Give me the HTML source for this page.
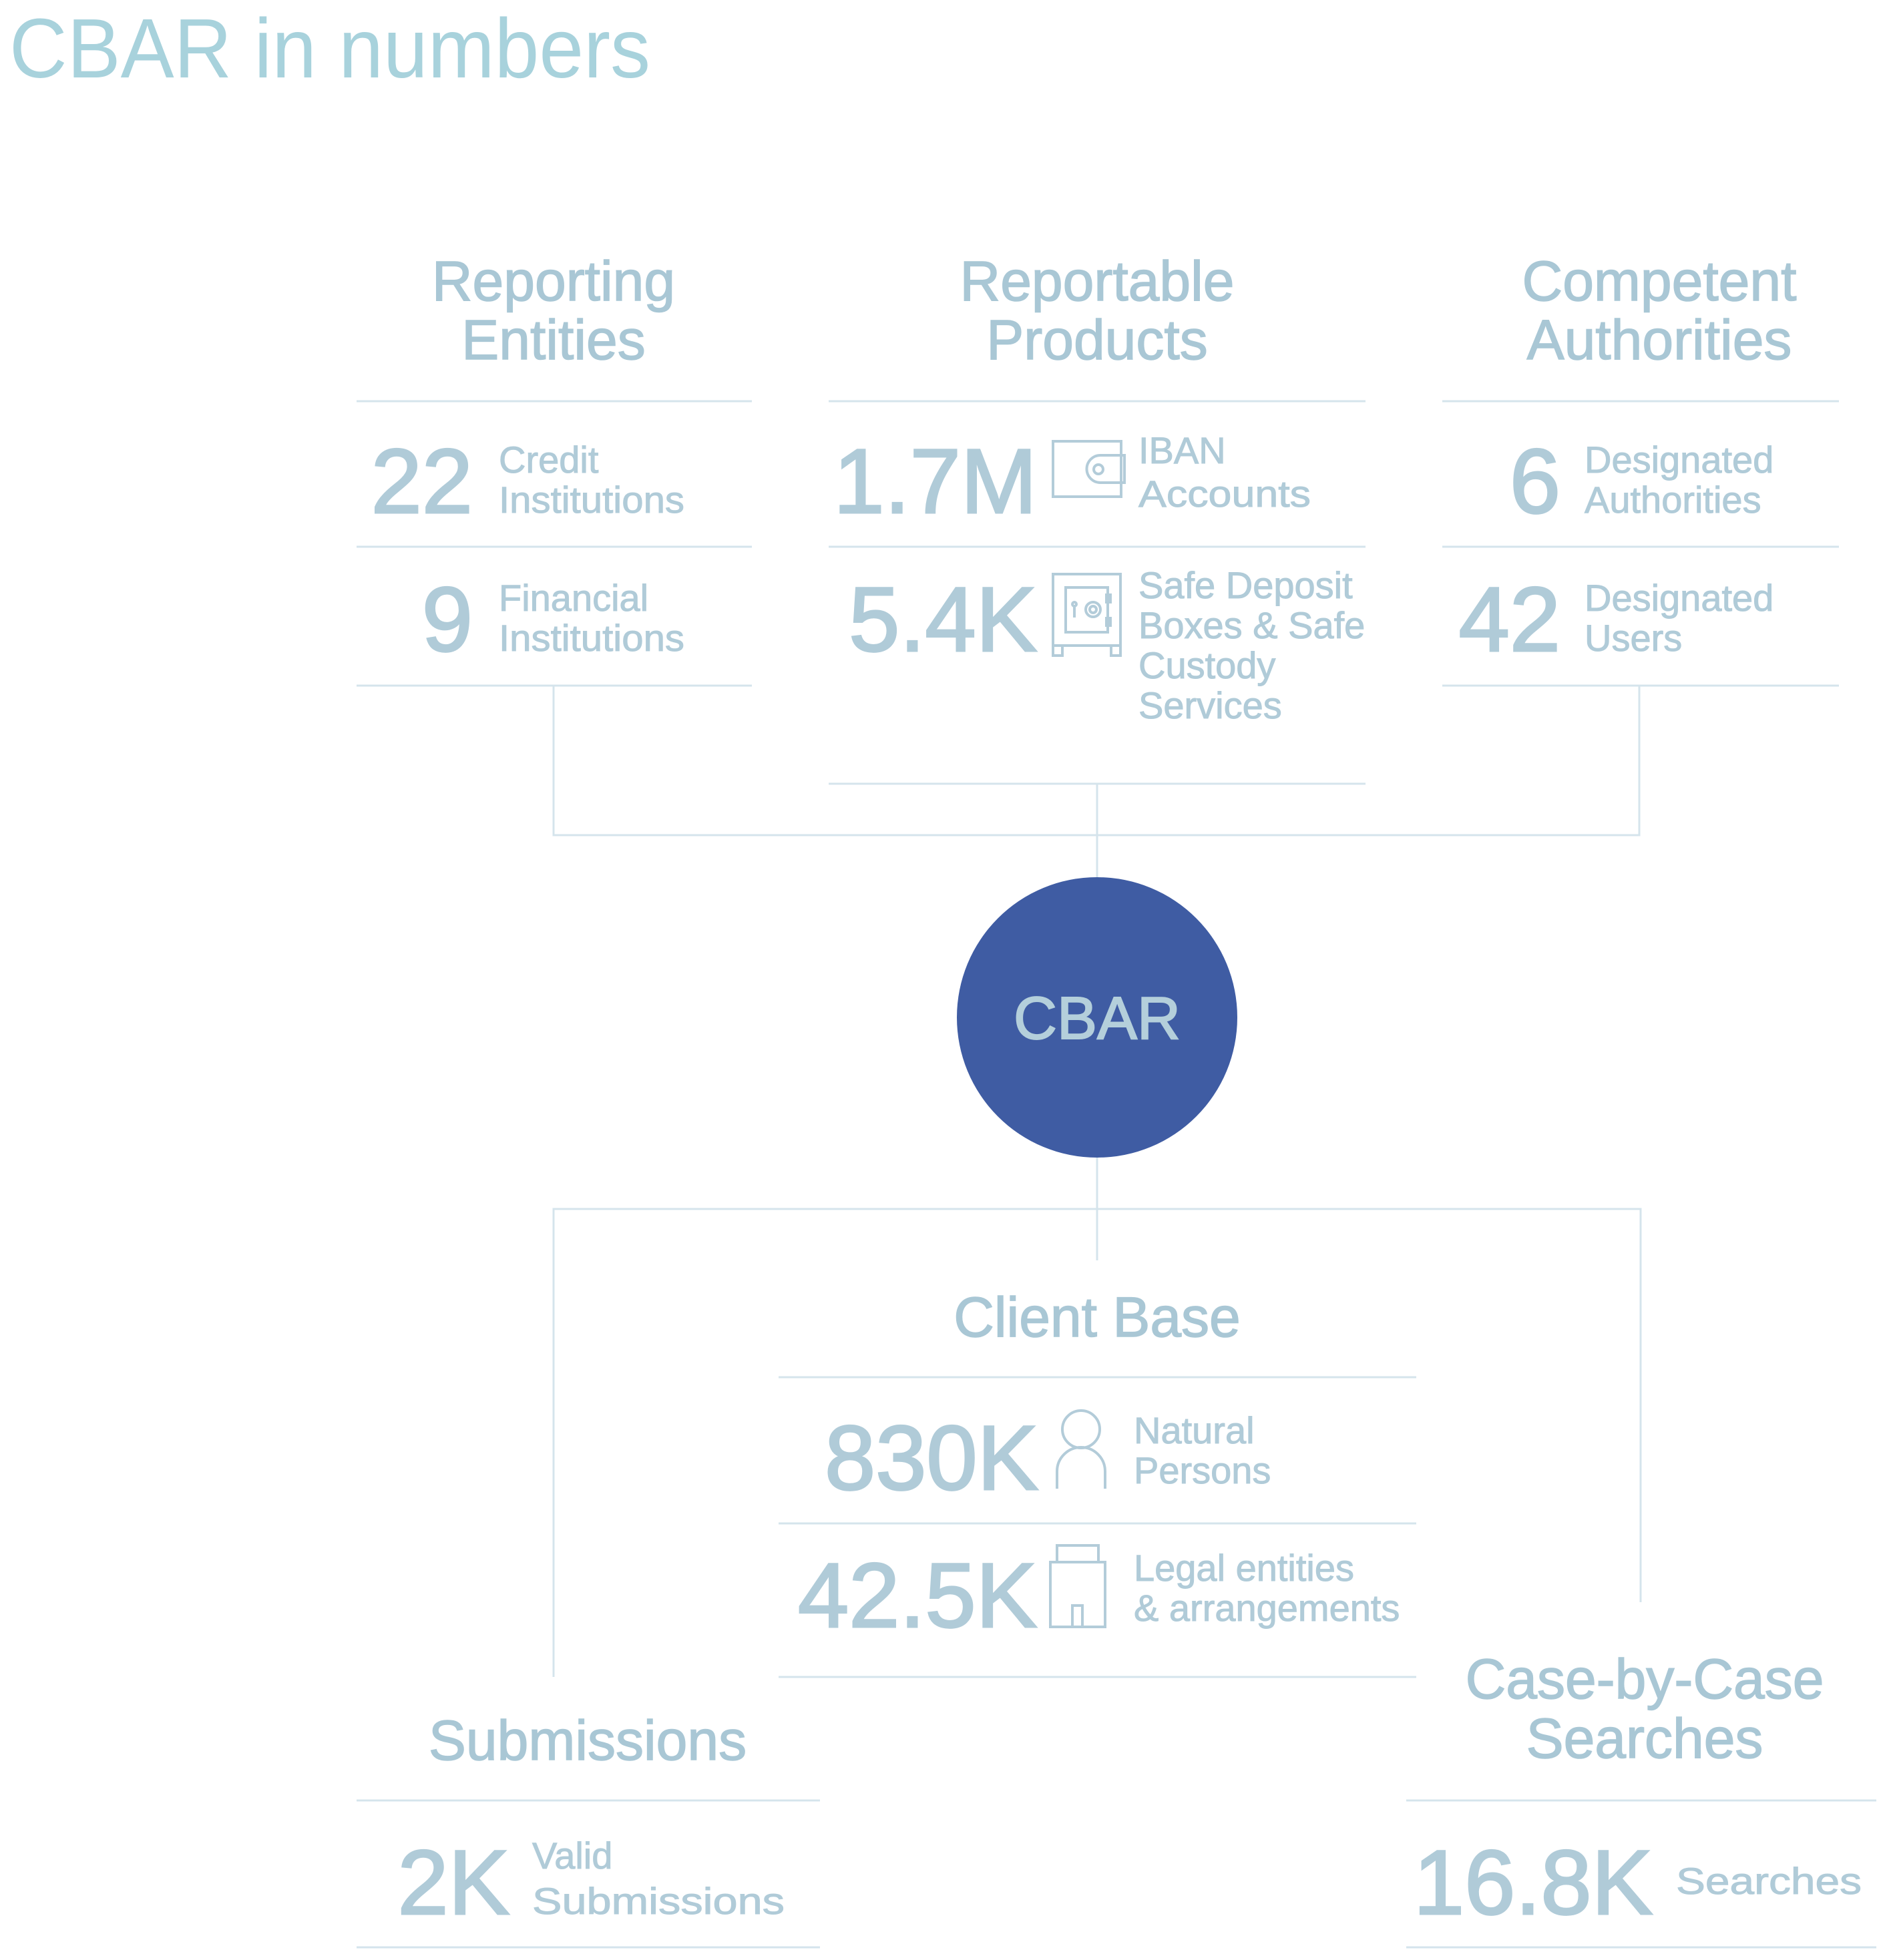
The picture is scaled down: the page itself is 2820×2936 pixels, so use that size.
<!DOCTYPE html>
<html><head><meta charset="utf-8"><style>
html,body{margin:0;padding:0;background:#fff;}
svg{display:block;font-family:"Liberation Sans",Arial,sans-serif;}
.h{font-size:84px;fill:#a9c7d5;stroke:#a9c7d5;stroke-width:1.5;text-anchor:middle;}
.n{font-size:137px;fill:#b0cbd8;stroke:#b0cbd8;stroke-width:3;text-anchor:end;}
.l{font-size:56px;fill:#b0cbd8;stroke:#b0cbd8;stroke-width:1;}
.ln{stroke:#d5e4ec;stroke-width:3;fill:none;}
.ic{stroke:#b3ccd9;stroke-width:4;fill:none;}
</style></head><body>
<svg width="2820" height="2936" viewBox="0 0 2820 2936" xmlns="http://www.w3.org/2000/svg">
<text x="14" y="116" font-size="126" fill="#a8d2dc" textLength="960" lengthAdjust="spacingAndGlyphs">CBAR in numbers</text>

<path class="ln" d="M829 1027V1251H2455V1027M1643 1174V1314"/>
<path class="ln" d="M1643 1734V1888M829 2512V1811H2457V2400"/>

<text class="h" x="829" y="450">Reporting</text>
<text class="h" x="829" y="538">Entities</text>
<path class="ln" d="M534 601H1126M534 819H1126M534 1027H1126"/>
<text class="n" x="708" y="768">22</text>
<text class="l" x="747" y="708">Credit</text>
<text class="l" x="747" y="768" textLength="278" lengthAdjust="spacingAndGlyphs">Institutions</text>
<text class="n" x="708" y="975">9</text>
<text class="l" x="747" y="915">Financial</text>
<text class="l" x="747" y="975" textLength="278" lengthAdjust="spacingAndGlyphs">Institutions</text>

<text class="h" x="1643" y="450">Reportable</text>
<text class="h" x="1643" y="538">Products</text>
<path class="ln" d="M1241 601H2045M1241 819H2045M1241 1174H2045"/>
<text class="n" x="1553" y="768">1.7M</text>
<rect class="ic" x="1577" y="661" width="102" height="83"/>
<path class="ic" d="M1684 682H1648A20.5 20.5 0 0 0 1648 723H1684Z" fill="#fff"/>
<circle class="ic" cx="1645" cy="703" r="7"/>
<text class="l" x="1705" y="694">IBAN</text>
<text class="l" x="1705" y="759" textLength="258" lengthAdjust="spacingAndGlyphs">Accounts</text>
<text class="n" x="1553" y="975">5.4K</text>
<rect class="ic" x="1577" y="860" width="101" height="107"/>
<rect class="ic" x="1596" y="880" width="63" height="67"/>
<rect class="ic" x="1657" y="891" width="6" height="11"/>
<rect class="ic" x="1657" y="926" width="6" height="11"/>
<circle class="ic" cx="1637" cy="913" r="11"/><circle class="ic" cx="1637" cy="913" r="5"/>
<circle class="ic" cx="1609" cy="905" r="3"/><path class="ic" d="M1609 908V925"/>
<path class="ic" d="M1577 967V982H1591V967M1664 967V982H1678V967"/>
<text class="l" x="1705" y="896">Safe Deposit</text>
<text class="l" x="1705" y="956">Boxes &amp; Safe</text>
<text class="l" x="1705" y="1016">Custody</text>
<text class="l" x="1705" y="1076">Services</text>

<text class="h" x="2485" y="450">Competent</text>
<text class="h" x="2485" y="538">Authorities</text>
<path class="ln" d="M2160 601H2754M2160 819H2754M2160 1027H2754"/>
<text class="n" x="2337" y="768">6</text>
<text class="l" x="2373" y="708">Designated</text>
<text class="l" x="2373" y="768">Authorities</text>
<text class="n" x="2337" y="975">42</text>
<text class="l" x="2373" y="915">Designated</text>
<text class="l" x="2373" y="975">Users</text>

<circle cx="1643" cy="1524" r="210" fill="#3f5ca3"/>
<text x="1643" y="1556" font-size="90" fill="#b4cfdb" stroke="#b4cfdb" stroke-width="2" text-anchor="middle">CBAR</text>

<text class="h" x="1643" y="2002">Client Base</text>
<path class="ln" d="M1166 2063H2121M1166 2282H2121M1166 2512H2121"/>
<text class="n" x="1555" y="2231">830K</text>
<circle class="ic" cx="1619" cy="2141" r="28"/>
<path class="ic" d="M1583 2230V2204A36 36 0 0 1 1655 2204V2230"/>
<text class="l" x="1698" y="2162">Natural</text>
<text class="l" x="1698" y="2222">Persons</text>
<text class="n" x="1553" y="2437">42.5K</text>
<rect class="ic" x="1583" y="2315" width="62" height="25"/>
<rect class="ic" x="1573" y="2340" width="82" height="97"/>
<rect class="ic" x="1606" y="2405" width="15" height="32"/>
<text class="l" x="1698" y="2368">Legal entities</text>
<text class="l" x="1698" y="2428">&amp; arrangements</text>

<text class="h" x="880" y="2636">Submissions</text>
<path class="ln" d="M534 2697H1228M534 2917H1228"/>
<text class="n" x="763" y="2867">2K</text>
<text class="l" x="797" y="2799" font-size="64">Valid</text>
<text class="l" x="797" y="2867" font-size="64" textLength="378" lengthAdjust="spacingAndGlyphs">Submissions</text>

<text class="h" x="2463" y="2544">Case-by-Case</text>
<text class="h" x="2463" y="2633">Searches</text>
<path class="ln" d="M2106 2697H2810M2106 2917H2810"/>
<text class="n" x="2475" y="2867">16.8K</text>
<text class="l" x="2510" y="2837" font-size="64" textLength="278" lengthAdjust="spacingAndGlyphs">Searches</text>
</svg>
</body></html>
